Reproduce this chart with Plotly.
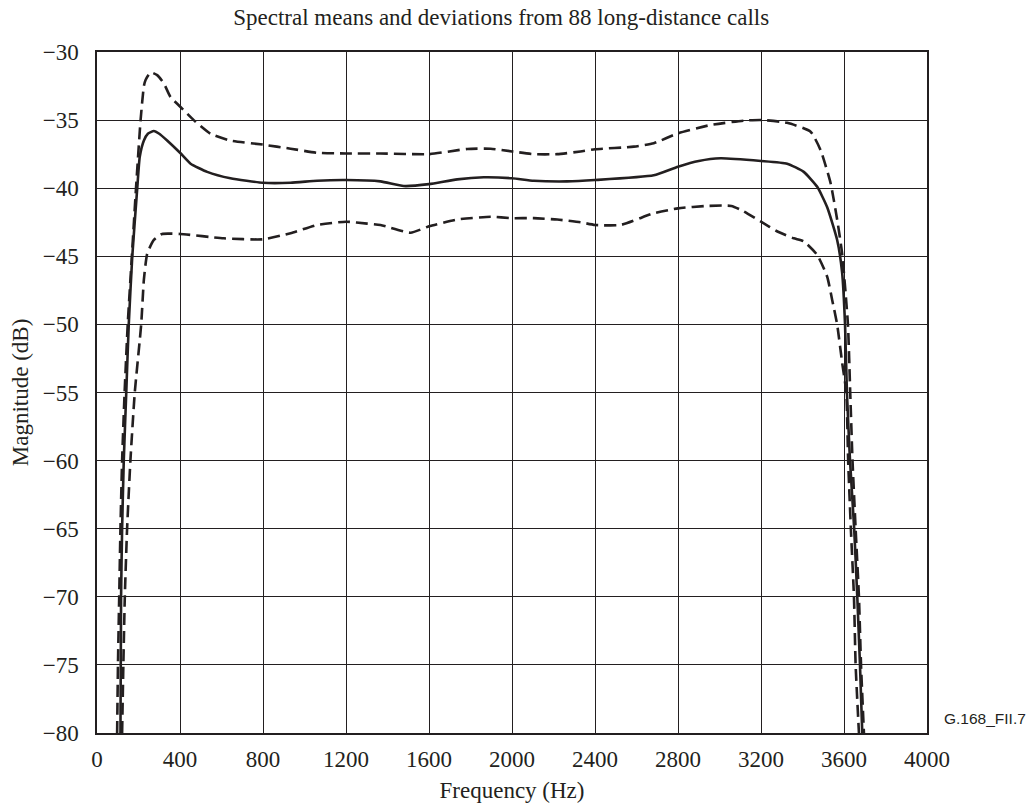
import plotly.graph_objects as go

# mean spectrum (solid)
mean_freq = [113, 116, 121, 129, 141, 153, 170, 194, 206, 226, 245, 274, 300, 338,
             400, 451, 531, 643, 800, 933, 1061, 1200, 1366, 1478, 1600, 1736, 1864,
             2000, 2105, 2265, 2400, 2683, 2800, 2900, 3005, 3200, 3326, 3406, 3471,
             3519, 3567, 3591, 3605, 3614, 3629, 3649, 3664, 3677, 3688]
mean_db = [-80, -70, -65, -60, -55, -50, -45, -40, -37.7, -36.5, -36.0, -35.8, -36.0, -36.5,
           -37.4, -38.2, -38.8, -39.27, -39.6, -39.6, -39.45, -39.4, -39.5, -39.84, -39.7, -39.35, -39.2,
           -39.27, -39.45, -39.5, -39.4, -39.05, -38.42, -38.0, -37.8, -38.0, -38.2, -38.8, -39.9,
           -41.4, -43.8, -46.2, -50, -55, -60, -65, -70, -75, -80]

# mean + deviation (upper dashed)
upper_freq = [97, 101, 107, 113, 121, 133, 148, 168, 188, 210, 226, 234, 258, 290, 322,
              354, 400, 466, 547, 643, 800, 933, 1061, 1200, 1366, 1600, 1784, 1897,
              2000, 2105, 2218, 2330, 2400, 2587, 2683, 2800, 2957, 3117, 3200, 3326,
              3439, 3487, 3535, 3567, 3591, 3619, 3630, 3641, 3656, 3672, 3682, 3696]
upper_db = [-80, -75, -70, -65, -60, -55, -50, -45, -40, -35, -32.5, -32.05, -31.5, -31.7, -32.3,
            -33.3, -34.0, -35.0, -36.0, -36.5, -36.8, -37.1, -37.4, -37.45, -37.45, -37.5, -37.12, -37.1,
            -37.3, -37.5, -37.5, -37.3, -37.14, -36.95, -36.7, -35.97, -35.36, -35.04, -34.99, -35.2,
            -35.85, -37.2, -39.6, -42.3, -44.8, -50, -55, -60, -65, -70, -75, -80]

# mean - deviation (lower dashed)
lower_freq = [121, 127, 134, 145, 161, 182, 213, 226, 242, 274, 314, 400, 611, 800, 933,
              1061, 1200, 1302, 1366, 1511, 1600, 1736, 1897, 2000, 2105, 2218, 2330,
              2400, 2523, 2683, 2800, 2944, 3057, 3117, 3200, 3282, 3358, 3406, 3471,
              3519, 3543, 3567, 3591, 3611, 3620, 3633, 3648, 3656, 3672]
lower_db = [-80, -75, -70, -65, -60, -55, -50, -46.7, -44.8, -43.8, -43.36, -43.36, -43.68, -43.75, -43.3,
            -42.7, -42.46, -42.6, -42.7, -43.27, -42.8, -42.3, -42.1, -42.2, -42.2, -42.3, -42.5,
            -42.7, -42.7, -41.84, -41.48, -41.3, -41.3, -41.7, -42.46, -43.2, -43.68, -43.9, -44.9,
            -46.5, -48.2, -50, -52.8, -55, -60, -65, -70, -75, -80]

x_ticks = list(range(0, 4001, 400))
y_ticks = list(range(-80, -29, 5))

ink = '#231f20'
serif = 'Liberation Serif, Times New Roman, serif'


def curve(x, y, dash=None):
    return go.Scatter(
        x=x, y=y, mode='lines',
        line=dict(color=ink, width=2.6, dash=dash, shape='spline', smoothing=0.5),
        showlegend=False,
    )


fig = go.Figure()
fig.add_trace(curve(upper_freq, upper_db, '12px,6px'))
fig.add_trace(curve(lower_freq, lower_db, '12px,6px'))
fig.add_trace(curve(mean_freq, mean_db))

axis_style = dict(showgrid=True, gridcolor=ink, gridwidth=1.2, showline=True,
                  linecolor=ink, linewidth=1.5, mirror=True, ticks='',
                  zeroline=False, automargin=False)

fig.update_layout(
    width=1026, height=803,
    margin=dict(l=97, r=99, t=52, b=70),
    paper_bgcolor='white', plot_bgcolor='white',
    font=dict(family=serif, size=23, color=ink),
    title=dict(text='Spectral means and deviations from 88 long-distance calls',
               x=0.487, xref='paper', xanchor='center',
               y=1 - 17 / 803, yref='container', yanchor='middle',
               font=dict(family=serif, size=23, color=ink)),
    xaxis=dict(range=[0, 4000], tickvals=x_ticks, ticklabelstandoff=5,
               title=dict(text='Frequency (Hz)', standoff=16, font=dict(size=23)),
               **axis_style),
    yaxis=dict(range=[-80, -30], tickvals=y_ticks, ticklabelstandoff=12,
               title=dict(text='Magnitude (dB)', standoff=8, font=dict(size=23)),
               **axis_style),
)

fig.add_annotation(text='G.168_FII.7', xref='paper', yref='paper', x=1.018, y=0.022,
                   xanchor='left', yanchor='middle', showarrow=False,
                   font=dict(family='Liberation Sans, Arial, sans-serif', size=15.5, color=ink))

# drop the default 8px body margin so the figure fills the window exactly
fig.write_html('out.html', config={'displayModeBar': False},
               post_script="document.body.style.margin = '0';")
